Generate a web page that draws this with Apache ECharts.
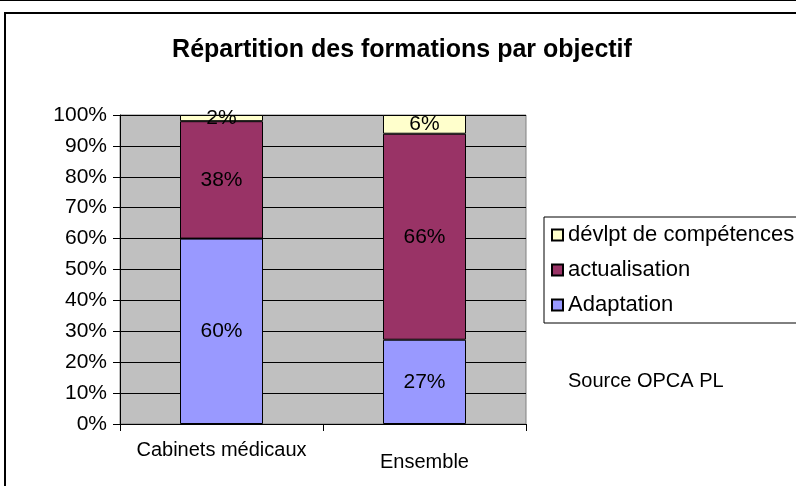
<!DOCTYPE html>
<html>
<head>
<meta charset="utf-8">
<script src="https://cdn.jsdelivr.net/npm/echarts@6/dist/echarts.min.js"></script>
<style>
  html, body { margin: 0; padding: 0; background: #fff; }
  #chart { width: 796px; height: 486px; }
</style>
</head>
<body>
<div id="chart"></div>
<script>
// Data
const categories = ['Cabinets médicaux', 'Ensemble'];
const adaptation = [60, 27];
const actualisation = [38, 66];
const developpement = [2, 6];
const yTicks = [0, 10, 20, 30, 40, 50, 60, 70, 80, 90, 100];

// 100% stacked: each segment drawn as share of its column total
const totals = categories.map((_, i) => adaptation[i] + actualisation[i] + developpement[i]);
const share = arr => arr.map((v, i) => ({ value: v / totals[i] * 100, raw: v }));

const font = 'Arial, "Liberation Sans", sans-serif';
const segLabel = {
    show: true,
    position: 'inside',
    color: '#000',
    fontFamily: font,
    fontSize: 21,
    formatter: p => p.data.raw + '%'
};

function barSeries(name, arr, color) {
    return {
        name: name,
        type: 'bar',
        stack: 'total',
        barWidth: 83,
        data: share(arr),
        itemStyle: { color: color, borderColor: '#000', borderWidth: 1 },
        label: segLabel,
        animation: false
    };
}

const chart = echarts.init(document.getElementById('chart'), null, { renderer: 'canvas' });

chart.setOption({
    backgroundColor: '#fff',
    animation: false,
    title: {
        text: 'Répartition des formations par objectif',
        left: 397,
        top: 33,
        textAlign: 'center',
        textStyle: { fontFamily: font, fontSize: 25, fontWeight: 'bold', color: '#000' }
    },
    graphic: [
        { type: 'rect', shape: { x: 0, y: 0, width: 796, height: 1 }, style: { fill: '#000' } },
        { type: 'rect', shape: { x: 5, y: 13, width: 900, height: 600 }, style: { fill: null, stroke: '#000', lineWidth: 2 } },
        { type: 'text', left: 568, top: 371, style: { text: 'Source OPCA PL', fontFamily: font, fontSize: 20, fill: '#000' } }
    ],
    legend: {
        orient: 'vertical',
        left: 544,
        top: 217,
        data: ['dévlpt de compétences', 'actualisation', 'Adaptation'],
        icon: 'rect',
        itemWidth: 11,
        itemHeight: 11,
        itemGap: 13,
        padding: [7, 300, 7, 7],
        borderColor: '#000',
        borderWidth: 1,
        textStyle: { fontFamily: font, fontSize: 22, color: '#000' }
    },
    grid: {
        left: 120,
        right: 270,
        top: 115,
        bottom: 62,
        show: true,
        backgroundColor: '#C0C0C0',
        borderColor: '#808080',
        borderWidth: 1
    },
    xAxis: {
        type: 'category',
        data: [
            { value: categories[0] },
            { value: categories[1], textStyle: { padding: [12, 0, 0, 0] } }
        ],
        axisLine: { lineStyle: { color: '#000', width: 1 } },
        axisTick: { show: true, interval: 0, length: 7, lineStyle: { color: '#000' } },
        axisLabel: { interval: 0, hideOverlap: false, color: '#000', fontFamily: font, fontSize: 20, margin: 16 }
    },
    yAxis: {
        type: 'value',
        min: yTicks[0],
        max: yTicks[yTicks.length - 1],
        interval: 10,
        axisLine: { show: true, lineStyle: { color: '#000' } },
        axisTick: { show: true, length: 7, lineStyle: { color: '#000' } },
        splitLine: { lineStyle: { color: '#000', width: 1 } },
        axisLabel: { color: '#000', fontFamily: font, fontSize: 21, margin: 13, formatter: '{value}%' }
    },
    series: [
        barSeries('Adaptation', adaptation, '#9999FF'),
        barSeries('actualisation', actualisation, '#993366'),
        barSeries('dévlpt de compétences', developpement, '#FFFFCC')
    ]
});
</script>
</body>
</html>
